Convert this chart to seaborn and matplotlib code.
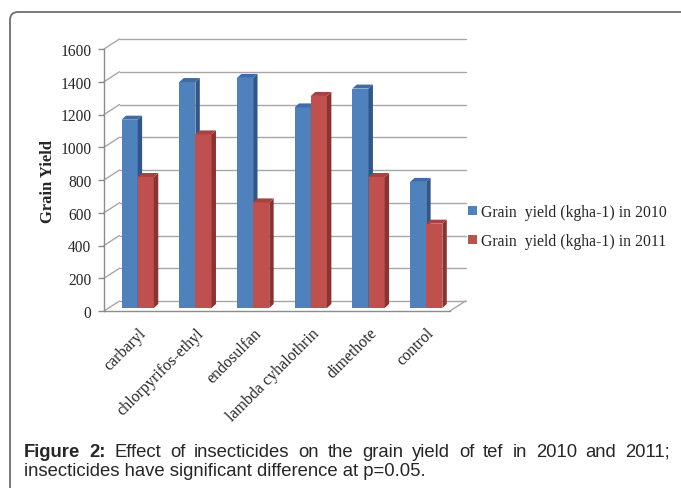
import matplotlib
matplotlib.use("Agg")
import numpy as np
import pandas as pd
import seaborn as sns
import matplotlib.pyplot as plt
from matplotlib.patches import Polygon, Patch, FancyBboxPatch
from matplotlib.transforms import ScaledTranslation

# ---------------- data ----------------
categories = ["carbaryl", "chlorpyrifos-ethyl", "endosulfan",
              "lambda cyhalothrin", "dimethote", "control"]
yield_2010 = [1150, 1380, 1405, 1225, 1340, 770]
yield_2011 = [800, 1060, 645, 1295, 800, 515]
series = ["Grain  yield (kgha-1) in 2010", "Grain  yield (kgha-1) in 2011"]
yticks = [0, 200, 400, 600, 800, 1000, 1200, 1400, 1600]
ylabel = "Grain Yield"
caption1_bold = ["Figure", "2:"]
caption1 = ["Effect", "of", "insecticides", "on", "the", "grain", "yield",
            "of", "tef", "in", "2010", "and", "2011;"]
caption2 = "insecticides have significant difference at p=0.05."

# ---------------- style ----------------
sns.set_style("white")
plt.rcParams["font.family"] = ["Liberation Serif", "DejaVu Sans"]

BLUE, BLUE_SIDE, BLUE_TOP = "#4F81BD", "#30578A", "#3E6DA6"
RED, RED_SIDE, RED_TOP = "#C0504D", "#8A3331", "#A84240"
GRID = "#A6A6A6"

W, H = 681, 489
fig = plt.figure(figsize=(W / 100, H / 100), dpi=100)
fig.patch.set_facecolor("white")

# axes = front plane of the 3-D box
ax = fig.add_axes([104 / W, (H - 312) / H, 346 / W, 262 / H])
ax.patch.set_alpha(0)

df = pd.DataFrame({
    "insecticide": categories * 2,
    "yield": yield_2010 + yield_2011,
    "year": [series[0]] * len(categories) + [series[1]] * len(categories),
})
sns.barplot(data=df, x="insecticide", y="yield", hue="year",
            order=categories, hue_order=series, palette=[BLUE, RED],
            width=0.56, saturation=1, errorbar=None, legend=False, ax=ax)

xl0, xl1 = -0.584, 5.412
ax.set_xlim(xl0, xl1)
ax.set_ylim(0, 1600)

# pixel -> data conversions
px_x = (xl1 - xl0) / 346.0
px_y = 1600 / 262.0

# bars sit slightly behind the front plane
bar_off = ScaledTranslation(0, 3 / 100, fig.dpi_scale_trans)
bar_tr = ax.transData + bar_off
bdx, bdy = 4.4 * px_x, 4.0 * px_y

for p in list(ax.patches):
    fc = matplotlib.colors.to_hex(p.get_facecolor())
    is_blue = fc.lower() == BLUE.lower()
    base_z = 2 if is_blue else 3
    p.set_transform(bar_tr)
    p.set_zorder(base_z)
    p.set_edgecolor("none")
    x, w, h = p.get_x(), p.get_width(), p.get_height()
    side = Polygon([(x + w, 0), (x + w, h), (x + w + bdx, h + bdy), (x + w + bdx, bdy)],
                   closed=True, facecolor=BLUE_SIDE if is_blue else RED_SIDE,
                   edgecolor="none", transform=bar_tr, zorder=base_z + 0.5, clip_on=False)
    top = Polygon([(x, h), (x + w, h), (x + w + bdx, h + bdy), (x + bdx, h + bdy)],
                  closed=True, facecolor=BLUE_TOP if is_blue else RED_TOP,
                  edgecolor="none", transform=bar_tr, zorder=base_z + 0.5, clip_on=False)
    ax.add_patch(side)
    ax.add_patch(top)

# back wall gridlines and left-wall diagonals
gdx, gdy = 15.5 * px_x, 10.0 * px_y
for v in yticks:
    ax.plot([xl0 + gdx, xl1 + gdx], [v + gdy, v + gdy], color=GRID, lw=1.0,
            zorder=0.5, clip_on=False)
    ax.plot([xl0, xl0 + gdx], [v, v + gdy], color=GRID, lw=1.0,
            zorder=0.5, clip_on=False)
# right floor edge
ax.plot([xl1, xl1 + gdx], [0, gdy], color=GRID, lw=1.0, zorder=0.5, clip_on=False)

# spines
sns.despine(ax=ax, top=True, right=True)
for s in ("left", "bottom"):
    ax.spines[s].set_color("#8C8C8C")
    ax.spines[s].set_linewidth(1.0)

ax.set_yticks(yticks)
ax.set_yticklabels([str(t) for t in yticks])
ax.tick_params(axis="y", length=4, width=1, color="#8C8C8C", pad=5,
               labelsize=11.2, left=True, direction="out")
ax.set_xticks(range(len(categories)))
ax.set_xticklabels(categories, rotation=45, ha="right", rotation_mode="anchor",
                   fontsize=11.5)
ax.tick_params(axis="x", length=0, pad=10)
ax.set_xlabel("")
ax.set_ylabel("")
fig.text(48 / W, 1 - 181.7 / H, ylabel, rotation=90, ha="center", va="center",
         fontsize=12, fontweight="bold")

# legend
handles = [Patch(facecolor=BLUE, edgecolor="none"), Patch(facecolor=RED, edgecolor="none")]
fig.legend(handles=handles, labels=series, loc="center left",
           bbox_to_anchor=(468 / W, 1 - 227.5 / H), frameon=False, fontsize=11.3,
           handlelength=0.55, handleheight=0.55, handletextpad=0.25,
           labelspacing=0.85, borderpad=0, borderaxespad=0)

# outer rounded border
fig.patches.append(FancyBboxPatch((10 / W, -0.2), 1.2, (H - 13) / H + 0.2,
                                  boxstyle="round,pad=0,rounding_size=0.012",
                                  mutation_aspect=W / H,
                                  transform=fig.transFigure, fill=False,
                                  edgecolor="#6E6E6E", lw=1.3))

# caption (justified first line)
cap_font = ["Liberation Sans", "DejaVu Sans"]
renderer = fig.canvas.get_renderer()
probe = fig.text(0, 0, caption2, family=cap_font, fontsize=10)
w10 = probe.get_window_extent(renderer).width
probe.remove()
cap_size = 10 * 404.0 / w10

objs = []
for wd in caption1_bold:
    objs.append(fig.text(0, 1 - 452.5 / H, wd, family=cap_font, fontsize=cap_size,
                         fontweight="bold", va="center"))
for wd in caption1:
    objs.append(fig.text(0, 1 - 452.5 / H, wd, family=cap_font, fontsize=cap_size,
                         va="center"))
widths = [o.get_window_extent(renderer).width for o in objs]
gap = (670 - 24 - sum(widths)) / (len(objs) - 1)
xpos = 24.0
for o, wv in zip(objs, widths):
    o.set_x(xpos / W)
    xpos += wv + gap
fig.text(24 / W, 1 - 471.5 / H, caption2, family=cap_font, fontsize=cap_size, va="center")

fig.savefig("out.png", dpi=100)
